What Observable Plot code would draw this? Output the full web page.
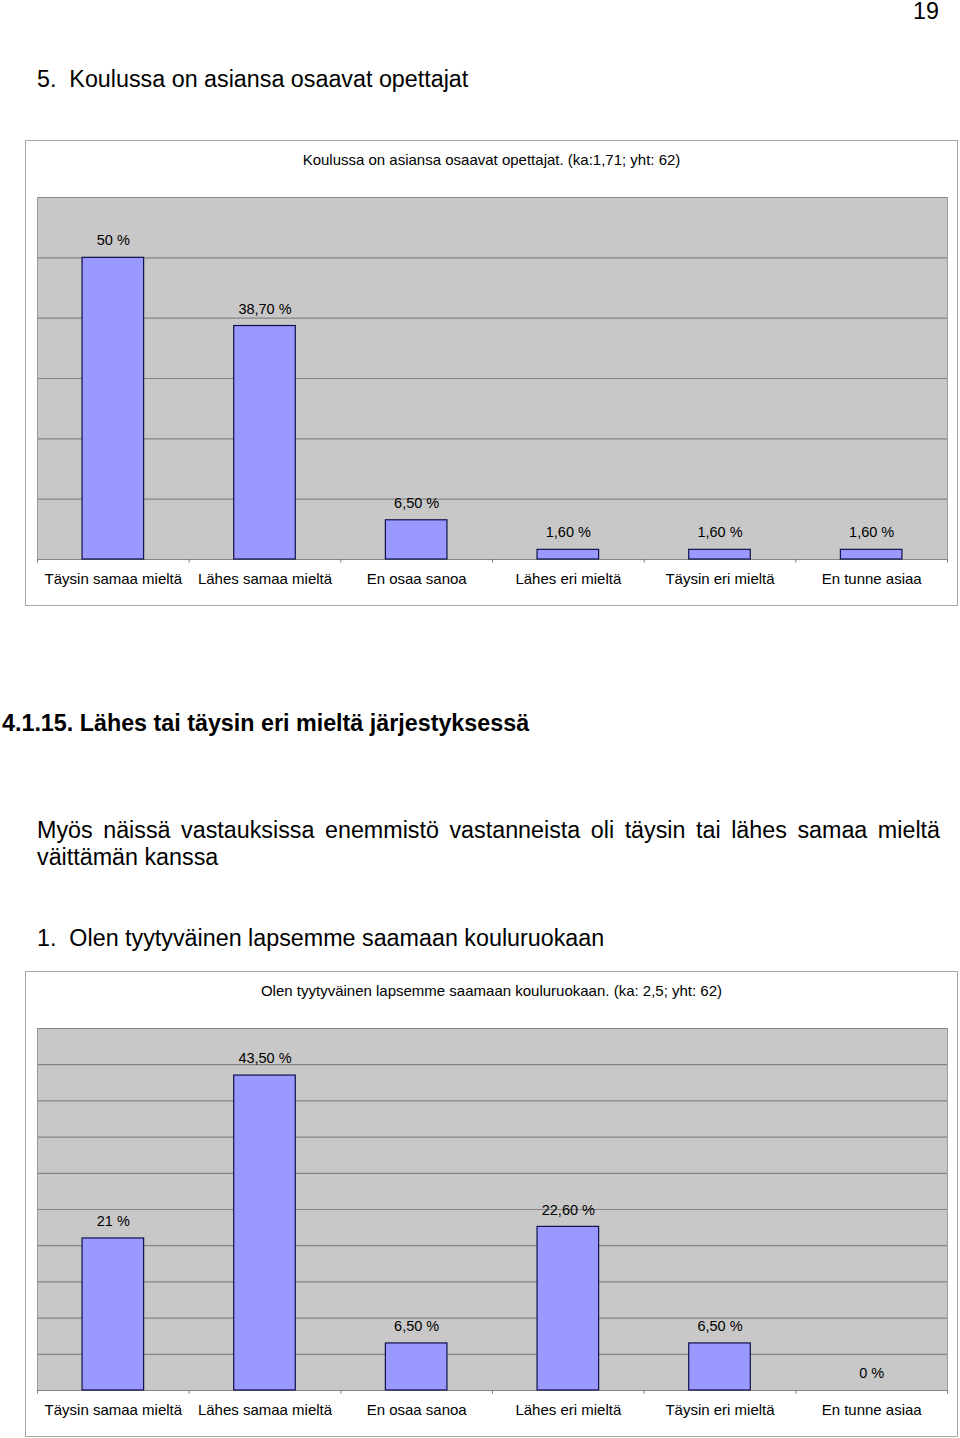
<!DOCTYPE html>
<html>
<head>
<meta charset="utf-8">
<script src="https://cdn.jsdelivr.net/npm/d3@7"></script>
<script src="https://cdn.jsdelivr.net/npm/@observablehq/plot@0.6"></script>
<style>
  html, body { margin: 0; padding: 0; background: #fff; }
  body { width: 960px; height: 1438px; position: relative; overflow: hidden;
         font-family: "Liberation Sans", Arial, sans-serif; color: #000; }
  .abs { position: absolute; white-space: nowrap; }
  .h { font-size: 23.3px; }
  .frame { position: absolute; left: 25px; width: 931px; height: 464px;
           border: 1px solid #a6a6a6; background: #fff; }
  .ctitle { position: absolute; left: 0; width: 931px; top: 10px; text-align: center;
            font-size: 15px; }
  .chart { position: absolute; left: 0; top: 40px; }
  .para { position: absolute; left: 37px; top: 817px; width: 903px; font-size: 23.3px;
          line-height: 27px; text-align: justify; text-align-last: left; }
</style>
</head>
<body>
<div class="abs h" style="left:913px; top:-2px;">19</div>
<div class="abs h" style="left:37px; top:66px;">5.&nbsp; Koulussa on asiansa osaavat opettajat</div>

<div class="frame" id="f1" style="top:140px;">
  <div class="ctitle">Koulussa on asiansa osaavat opettajat. (ka:1,71; yht: 62)</div>
  <div class="chart" id="c1"></div>
</div>

<div class="abs h" style="left:2px; top:710px; font-weight:bold;">4.1.15. Lähes tai täysin eri mieltä järjestyksessä</div>
<div class="para">Myös näissä vastauksissa enemmistö vastanneista oli täysin tai lähes samaa mieltä väittämän kanssa</div>
<div class="abs h" style="left:37px; top:925px;">1.&nbsp; Olen tyytyväinen lapsemme saamaan kouluruokaan</div>

<div class="frame" id="f2" style="top:971px;">
  <div class="ctitle">Olen tyytyväinen lapsemme saamaan kouluruokaan. (ka: 2,5; yht: 62)</div>
  <div class="chart" id="c2"></div>
</div>

<script>
const categories = ["Täysin samaa mieltä", "Lähes samaa mieltä", "En osaa sanoa",
                    "Lähes eri mieltä", "Täysin eri mieltä", "En tunne asiaa"];
const values1 = [50, 38.7, 6.5, 1.6, 1.6, 1.6];
const values2 = [21, 43.5, 6.5, 22.6, 6.5, 0];
const yTicks1 = [0, 10, 20, 30, 40, 50, 60];
const yTicks2 = [0, 5, 10, 15, 20, 25, 30, 35, 40, 45, 50];

const fmt = v => (Number.isInteger(v) ? String(v) : v.toFixed(2).replace(".", ",")) + " %";

function makeChart(values, yTicks) {
  const width = 931, height = 420;
  const mL = 11, mR = 10, mT = 16, mB = 42;
  const step = (width - mL - mR) / categories.length;
  const yMax = yTicks[yTicks.length - 1];
  const data = categories.map((c, i) => ({cat: c, v: values[i]}));
  return Plot.plot({
    width, height,
    marginLeft: mL, marginRight: mR, marginTop: mT, marginBottom: mB,
    style: {fontFamily: "'Liberation Sans', Arial, sans-serif", fontSize: "14px", color: "#000", background: "transparent"},
    x: {domain: categories, paddingInner: 0.594, paddingOuter: 0.297, round: false, label: null},
    y: {domain: [0, yMax], axis: null},
    marks: [
      Plot.frame({fill: "#c8c8c8", stroke: null}),
      Plot.ruleY(yTicks, {stroke: "#858585", strokeWidth: 1.2}),
      Plot.ruleX([categories[0]], {y1: 0, y2: yMax, dx: -step / 2, stroke: "#9a9a9a"}),
      Plot.ruleX([categories[categories.length - 1]], {y1: 0, y2: yMax, dx: step / 2, stroke: "#9a9a9a"}),
      Plot.ruleX(categories, {y1: 0, y2: -yMax / 100, dx: -step / 2, stroke: "#808080"}),
      Plot.ruleX([categories[categories.length - 1]], {y1: 0, y2: -yMax / 100, dx: step / 2, stroke: "#808080"}),
      Plot.barY(data.filter(d => d.v > 0), {x: "cat", y: "v", fill: "#9999ff", stroke: "#10104a", strokeWidth: 1.2}),
      Plot.text(data, {x: "cat", y: "v", text: d => fmt(d.v), dy: -17, fontSize: 14.5, fill: "#000"}),
      Plot.axisX({tickSize: 0, tickPadding: 14, fontSize: 15, fill: "#000"})
    ]
  });
}

document.getElementById("c1").append(makeChart(values1, yTicks1));
document.getElementById("c2").append(makeChart(values2, yTicks2));
</script>
</body>
</html>
